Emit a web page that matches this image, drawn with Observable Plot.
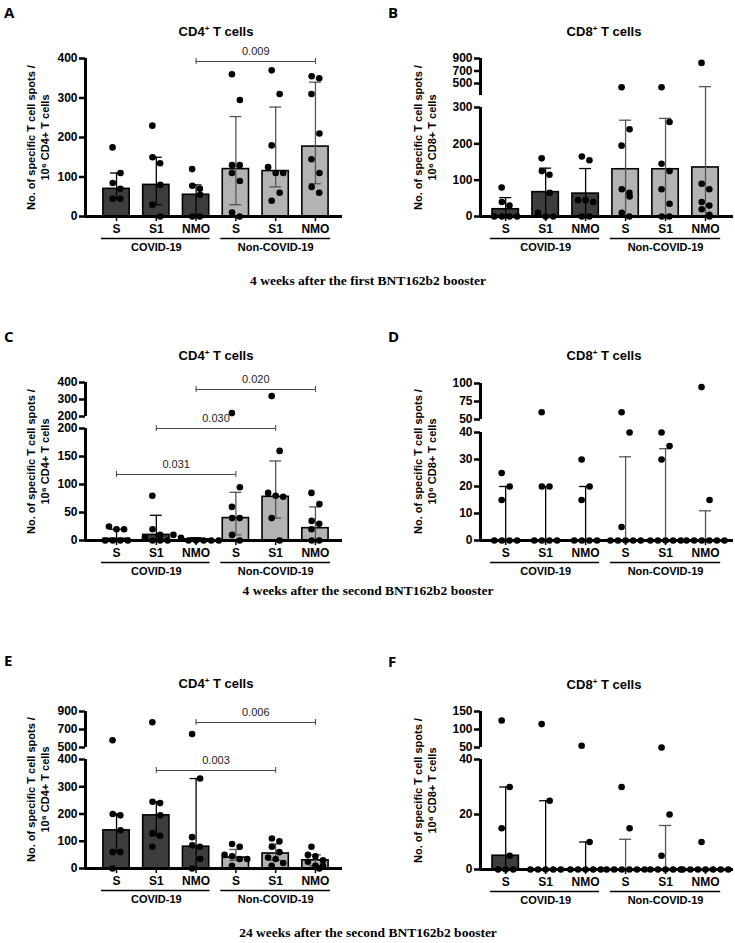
<!DOCTYPE html>
<html><head><meta charset="utf-8">
<script src="https://cdn.jsdelivr.net/npm/d3@7"></script>
<script src="https://cdn.jsdelivr.net/npm/@observablehq/plot@0.6"></script>
<style>
body{margin:0;background:#fff;}
#root{position:relative;width:735px;height:943px;font-family:"Liberation Sans",Arial,sans-serif;}
.abs{position:absolute;}
.letter{font-family:"Open Sans",sans-serif;font-weight:700;font-size:15px;}
.ttl{font-weight:700;font-size:13px;transform:translateX(-50%);white-space:nowrap;}
.cap{font-family:"Liberation Serif",serif;font-weight:700;font-size:13.5px;transform:translateX(-50%);white-space:nowrap;}
</style></head><body><div id="root"></div>
<script>
const xLabels = ["S","S1","NMO","S","S1","NMO"];
const groupNames = ["COVID-19","Non-COVID-19"];

// Panel A
const aPoints = [[175,110,85,70,45,45],[230,150,135,80,30,0],[120,78,70,55,0,0],[360,295,130,130,110,90,10,0],[370,310,180,125,110,110,60,40],[355,350,310,210,145,110,75,60]];
const aBars = [70,80,55,120,115,177];
const aErrLo = [45,30,0,30,75,83];
const aErrHi = [110,150,80,253,277,340];
// Panel B
const bPoints = [[80,40,30,0,0,0,0],[160,125,115,65,10,0,0],[165,155,45,45,40,0,0],[440,240,195,75,65,55,10,0],[440,260,145,125,75,35,0,0],[830,90,75,40,30,20,5,0]];
const bBars = [20,67,63,130,130,135];
const bErrLo = [0,0,0,0,0,0];
const bErrHi = [52,133,132,265,270,450];
// Panel C
const cPoints = [[25,20,20,0,0,0,0],[80,20,10,5,0,0,0],[10,5,0,0,0,0,0],[220,95,60,40,40,10,0],[320,160,85,80,78,40,0],[85,65,35,30,20,0,0]];
const cBars = [3,10,2,40,78,22];
const cErrLo = [0,0,0,10,40,0];
const cErrHi = [20,45,5,86,142,60];
// Panel D
const dPoints = [[25,20,15,0,0,0,0],[60,20,20,0,0,0,0],[30,20,15,0,0,0,0],[60,40,5,0,0,0,0,0],[40,35,30,0,0,0,0,0],[95,15,0,0,0,0,0,0]];
const dBars = [0,0,0,0,0,0];
const dErrLo = [0,0,0,0,0,0];
const dErrHi = [20,20,20,31,34,11];
// Panel E
const ePoints = [[580,200,195,140,60,60,0],[780,245,240,195,130,120,80],[650,330,115,85,80,35,0],[90,80,50,45,35,35,10],[110,100,80,60,40,35,20,10],[80,50,45,30,25,10,10,0]];
const eBars = [140,195,80,40,55,30];
const eErrLo = [60,120,0,30,30,10];
const eErrHi = [200,245,330,70,90,50];
// Panel F
const fPoints = [[125,30,15,5,0,0,0],[115,25,0,0,0,0,0],[55,10,0,0,0,0,0],[30,15,0,0,0,0,0,0],[50,20,5,0,0,0,0,0],[10,0,0,0,0,0,0,0]];
const fBars = [5,0,0,0,0,0];
const fErrLo = [0,0,0,0,0,0];
const fErrHi = [30,25,10,11,16,0];

const panels = [
 {letter:"A",left:true,zero:216,cell:"CD4",pts:aPoints,bars:aBars,lo:aErrLo,hi:aErrHi,
  ticks:[0,100,200,300,400],segs:[{v0:0,p0:0,v1:400,p1:158}],
  brackets:[{a:2,b:5,v:155,label:"0.009"}]},
 {letter:"B",left:false,zero:216,cell:"CD8",pts:bPoints,bars:bBars,lo:bErrLo,hi:bErrHi,
  ticks:[0,100,200,300,500,700,900],segs:[{v0:0,p0:0,v1:300,p1:109},{v0:500,p0:133,v1:900,p1:158,bottom:121}],brackets:[]},
 {letter:"C",left:true,zero:540,cell:"CD4",pts:cPoints,bars:cBars,lo:cErrLo,hi:cErrHi,
  ticks:[0,50,100,150,200,200,300,400],segs:[{v0:0,p0:0,v1:200,p1:112},{v0:200,p0:124,v1:400,p1:158,bottom:124}],
  brackets:[{a:2,b:5,v:151,label:"0.020"},{a:1,b:4,v:112,label:"0.030"},{a:0,b:3,v:66,label:"0.031"}]},
 {letter:"D",left:false,zero:540,cell:"CD8",pts:dPoints,bars:dBars,lo:dErrLo,hi:dErrHi,
  ticks:[0,10,20,30,40,50,75,100],segs:[{v0:0,p0:0,v1:40,p1:108},{v0:50,p0:121,v1:100,p1:157,bottom:121}],brackets:[]},
 {letter:"E",left:true,zero:868,cell:"CD4",pts:ePoints,bars:eBars,lo:eErrLo,hi:eErrHi,
  ticks:[0,100,200,300,400,500,700,900],segs:[{v0:0,p0:0,v1:400,p1:109},{v0:500,p0:121,v1:900,p1:157,bottom:121}],
  brackets:[{a:2,b:5,v:146,label:"0.006"},{a:1,b:4,v:98,label:"0.003"}]},
 {letter:"F",left:false,zero:869,cell:"CD8",pts:fPoints,bars:fBars,lo:fErrLo,hi:fErrHi,
  ticks:[0,20,40,50,100,150],segs:[{v0:0,p0:0,v1:40,p1:110},{v0:50,p0:122,v1:150,p1:158,bottom:122}],brackets:[]}
];
const captions = [{text:"4 weeks after the first BNT162b2 booster",y:273},{text:"4 weeks after the second BNT162b2 booster",y:583},{text:"24 weeks after the second BNT162b2 booster",y:925}];

const root = document.getElementById("root");
function addDiv(cls, html, x, y){const d=document.createElement("div");d.className="abs "+cls;d.innerHTML=html;d.style.left=x+"px";d.style.top=y+"px";root.appendChild(d);return d;}

function makeT(segs){
  return (v, upperFirst) => {
    const lo = segs[0], up = segs[1];
    let s = lo;
    if (up && (v > lo.v1 || (upperFirst && v >= up.v0))) s = up;
    return s.p0 + (v - s.v0) * (s.p1 - s.p0) / (s.v1 - s.v0);
  };
}

for (const p of panels) {
  const t = makeT(p.segs);
  const H = 250, mT = 32, mB = 60;
  const W = p.left ? 367 : 368;
  const mL = p.left ? 85 : 113, mR = p.left ? 25 : 2;
  const xDom = p.left ? [-0.78, 5.68] : [-0.63, 5.7];
  const svgTop = p.zero - 190;
  const xOff = p.left ? 0 : 367;
  const seen = new Set();
  const tickRows = p.ticks.map(v => {const up = seen.has(v) || (p.segs[1] && v >= p.segs[1].v0 && v > p.segs[0].v1); seen.add(v); return {v, pos: up ? t(v, true) : t(v)};});
  const rows = [], dots = [];
  p.bars.forEach((b,i) => rows.push({i, b: t(b), lo: t(p.lo[i]), hi: t(p.hi[i]), hiV: p.hi[i], loV: p.lo[i], covid: i < 3}));
  p.pts.forEach((vals,i) => {
    const arr = vals.map(v => ({v, y: t(v)})).sort((a,b)=>b.y-a.y);
    let k = 0, alt = 0;
    while (k < arr.length) {
      let j = k; while (j+1 < arr.length && arr[k].y - arr[j+1].y < 6.5) j++;
      const n = j - k + 1;
      for (let m = k; m <= j; m++) {
        let off = (m - k - (n-1)/2) * 0.19;
        if (n === 1) { off = (alt % 2 ? 0.1 : -0.1); alt++; }
        dots.push({x: i + off, y: arr[m].y});
      }
      k = j + 1;
    }
  });
  const axisSegs = p.segs.map((s,idx)=>({y1: idx===0?0:s.bottom, y2: s.p1}));
  const marks = [
    Plot.rectY(rows, {x1: d=>d.i-0.33, x2: d=>d.i+0.33, y1: 0, y2: "b", fill: d=>d.covid?"#3d3d3d":"#b3b3b3", stroke:"#000", strokeWidth:1.6}),
    Plot.ruleX(rows.filter(d=>d.hiV>0), {x:"i", y1:"lo", y2:"hi", stroke: d=>d.covid?"#000":"#555", strokeWidth:1.3}),
    Plot.ruleY(rows.filter(d=>d.hiV>0), {y:"hi", x1:d=>d.i-0.15, x2:d=>d.i+0.15, stroke: d=>d.covid?"#000":"#555", strokeWidth:1.3}),
    Plot.ruleY(rows.filter(d=>d.loV>0), {y:"lo", x1:d=>d.i-0.15, x2:d=>d.i+0.15, stroke: d=>d.covid?"#000":"#555", strokeWidth:1.3}),
    Plot.dot(dots, {x:"x", y:"y", r:3.3, fill:"#000"}),
    Plot.ruleX(axisSegs, {x: xDom[0], y1:"y1", y2:"y2", stroke:"#000", strokeWidth:3}),
    Plot.ruleY([0], {x1: xDom[0], x2: xDom[1], stroke:"#000", strokeWidth:3}),
    Plot.axisY(tickRows.map(d=>d.pos), {tickFormat: (d) => { const r = tickRows.find(q=>q.pos===d); return r ? r.v : ""; }, tickSize:6, tickPadding:2, strokeWidth:2.5, fontWeight:"bold", fontSize:12, fill:"#000"}),
    Plot.axisX([0,1,2,3,4,5], {tickFormat: i=>xLabels[i], tickSize:5, tickPadding:3, strokeWidth:1.5, fontWeight:"bold", fontSize:12, fill:"#000"}),
    Plot.ruleY([{a:-0.38,b:2.35},{a:2.62,b:5.38}], {y:0, x1:"a", x2:"b", dy:22, stroke:"#000", strokeWidth:1.4}),
    Plot.text(groupNames, {x:(d,i)=>[1,4][i], y:0, dy:31, text:d=>d, fontWeight:"bold", fontSize:11}),
    Plot.text(["No. of specific T cell spots /"], {x:xDom[0], y:79, dx: p.left?-54:-62, rotate:-90, fontWeight:"bold", fontSize:11}),
    Plot.text(["10⁶ " + p.cell + "+ T cells"], {x:xDom[0], y:79, dx: p.left?-40:-48, rotate:-90, fontWeight:"bold", fontSize:11}),
    Plot.ruleY(p.brackets, {y:"v", x1:"a", x2:"b", stroke:"#444", strokeWidth:1}),
    Plot.ruleX(p.brackets, {x:"a", y1:d=>d.v-3, y2:d=>d.v+3, stroke:"#444", strokeWidth:1}),
    Plot.ruleX(p.brackets, {x:"b", y1:d=>d.v-3, y2:d=>d.v+3, stroke:"#444", strokeWidth:1}),
    Plot.text(p.brackets, {x:d=>(d.a+d.b)/2, y:"v", dy:-10, text:"label", fontSize:11, fill:"#222"})
  ];
  const chart = Plot.plot({
    width: W, height: H, marginTop: mT, marginBottom: mB, marginLeft: mL, marginRight: mR,
    style: {fontFamily: "'Liberation Sans', Arial, sans-serif", color:"#000", background:"transparent", overflow:"visible"},
    x: {type:"linear", domain: xDom},
    y: {type:"linear", domain: [0,158]},
    marks
  });
  chart.style.position = "absolute"; chart.style.left = xOff + "px"; chart.style.top = svgTop + "px";
  root.appendChild(chart);
  addDiv("letter", p.letter, p.left ? 4 : 388, p.zero - (p.letter==="E"||p.letter==="F" ? 218 : 214));
  addDiv("ttl", p.cell + "<sup style='font-size:8px'>+</sup> T cells", p.left ? 216 : 604, p.zero - 192);
}
for (const c of captions) addDiv("cap", c.text, 368, c.y);
</script></body></html>
